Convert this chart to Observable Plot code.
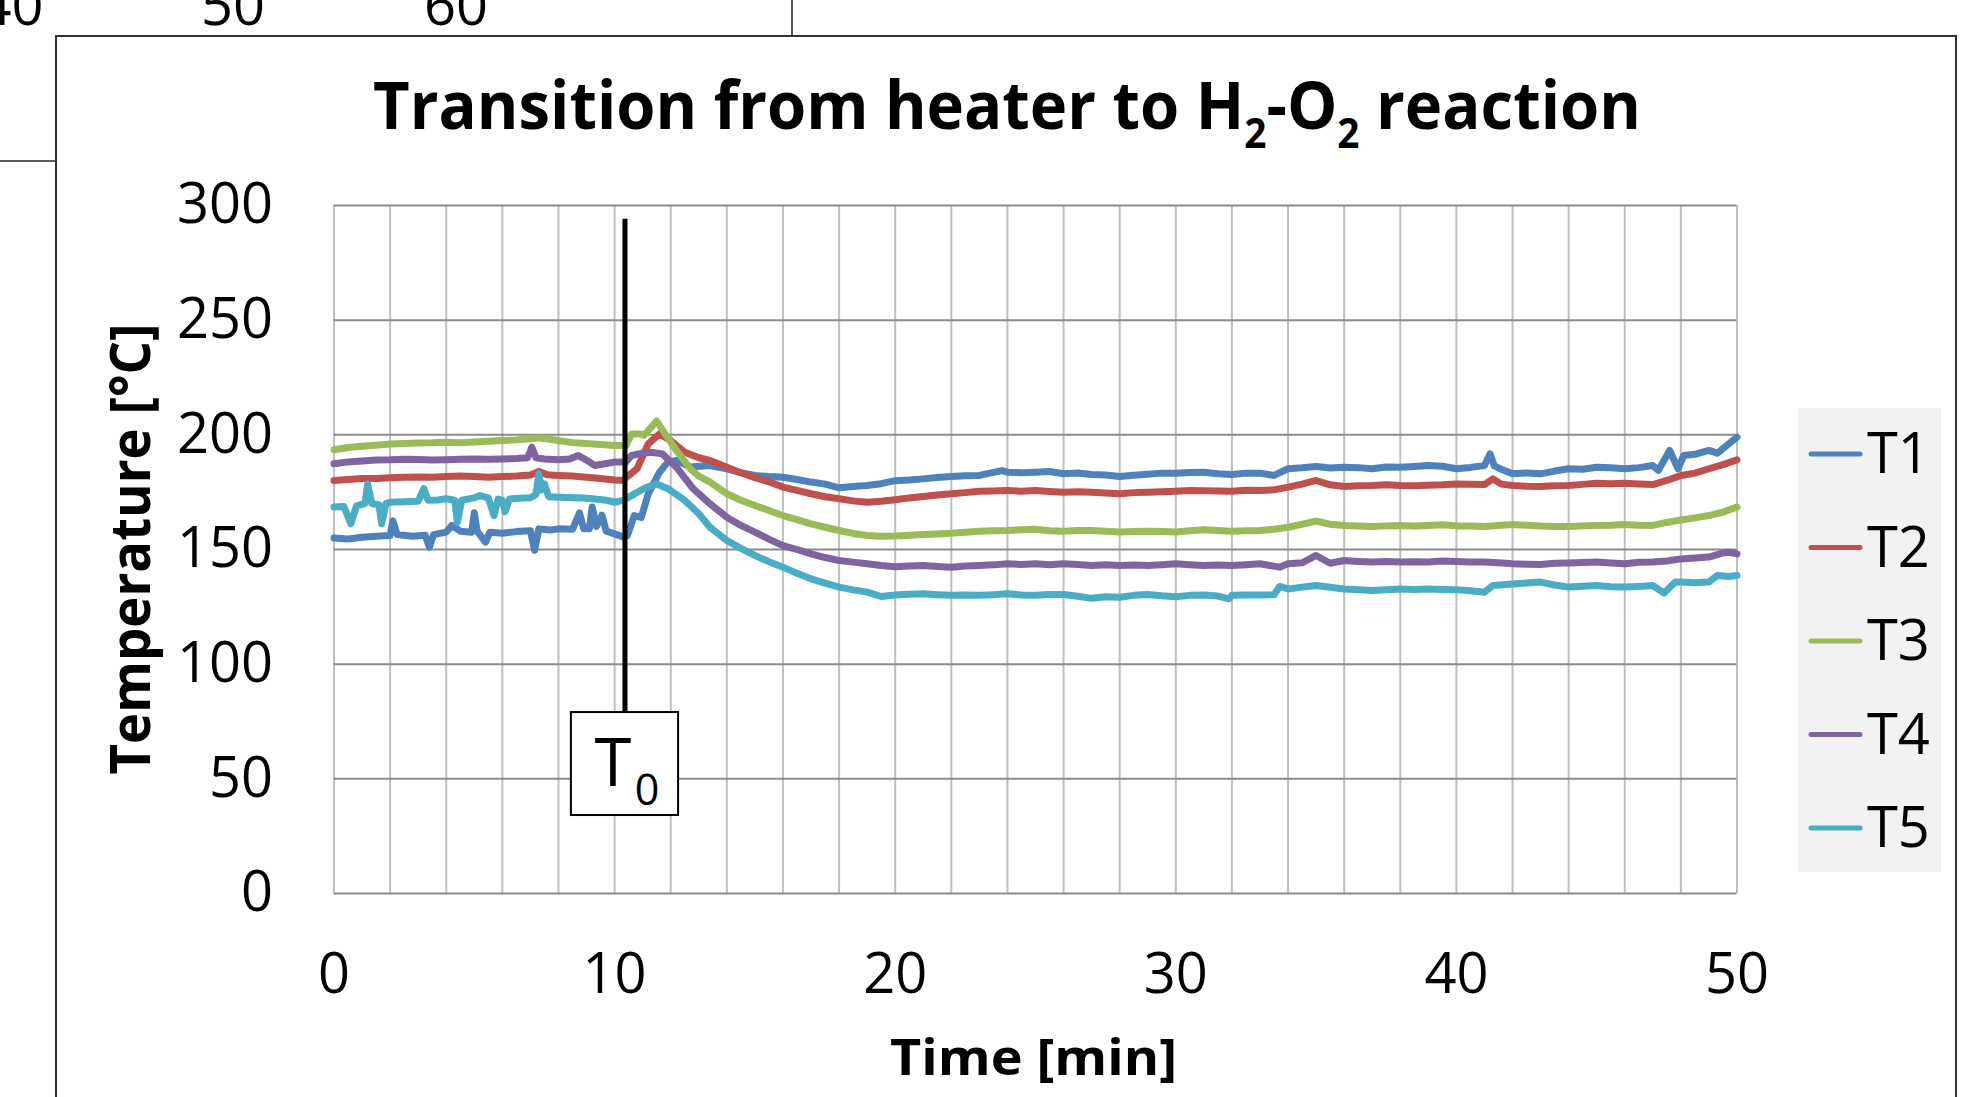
<!DOCTYPE html>
<html>
<head>
<meta charset="utf-8">
<script src="https://cdn.jsdelivr.net/npm/d3@7"></script>
<script src="https://cdn.jsdelivr.net/npm/@observablehq/plot@0.6"></script>
<style>
  html, body { margin: 0; padding: 0; background: #fff; overflow: hidden; }
  #chart { position: absolute; left: 0; top: 0; width: 1969px; height: 1097px; }
</style>
</head>
<body>
<div id="chart"></div>
<script>
// ---------- data ----------
const categories = ["T1", "T2", "T3", "T4", "T5"];
const colors = ["#4F81BD", "#C0504D", "#9BBB59", "#8064A2", "#4BACC6"];
const xTicks = [0, 10, 20, 30, 40, 50];
const yTicks = [0, 50, 100, 150, 200, 250, 300];
const xGridTicks = [0,2,4,6,8,10,12,14,16,18,20,22,24,26,28,30,32,34,36,38,40,42,44,46,48,50];
const titleText = ["Transition from heater to H", "2", "-O", "2", " reaction"];
const xLabel = "Time [min]";
const yLabel = "Temperature [°C]";
const t0Time = [10.37];
const t0Label = ["T", "0"];
const behindLabels = ["40", "50", "60"];

// [time (min), temperature (°C)]
const T1 = [[0,155],[0.5,154.6],[1,155.3],[1.5,155.8],[2,156.1],[2.1,162.5],[2.25,156.5],[2.8,155.8],[3.25,156.2],[3.4,151],[3.55,156.5],[4,157.6],[4.2,160.5],[4.5,158],[4.9,157.5],[5,166],[5.1,158],[5.4,153.2],[5.55,157.5],[6,157.1],[6.5,157.8],[7,158.2],[7.15,149.6],[7.3,159],[7.7,158.5],[8,159],[8.5,158.8],[8.75,166],[8.9,159],[9.1,159],[9.2,168.5],[9.35,160],[9.55,165],[9.7,158],[10,156.8],[10.3,155.5],[10.45,156],[10.7,164.8],[10.95,164],[11.2,174.3],[11.6,183.7],[11.9,188.1],[12.2,188.8],[12.7,186],[13.4,186.6],[14,185.2],[14.5,183.5],[15,182.3],[15.5,181.8],[16,181.5],[16.5,180.5],[17,179.4],[17.5,178.5],[18,176.9],[18.5,177.5],[19,177.9],[19.5,178.7],[20,180],[20.5,180.3],[21,180.8],[21.5,181.4],[22,181.8],[22.5,182.2],[23,182.3],[23.8,184.4],[24,183.7],[24.5,183.5],[25,183.7],[25.5,184],[26,183],[26.5,183.4],[27,182.7],[27.5,182.5],[28,181.8],[28.5,182.4],[29,182.8],[29.5,183.3],[30,183.3],[30.5,183.6],[31,183.7],[31.5,183],[32,182.7],[32.5,183.3],[33,183.3],[33.5,182.3],[34,185.2],[34.5,185.6],[35,186.2],[35.5,185.5],[36,185.9],[36.5,185.7],[37,185.2],[37.5,186],[38,185.9],[38.5,186.2],[39,186.6],[39.5,186.3],[40,185.2],[40.5,185.8],[41,186.6],[41.2,191.7],[41.35,186.5],[41.6,185],[42,183],[42.5,183.4],[43,183],[43.5,184.2],[44,185.2],[44.5,185],[45,185.9],[45.5,185.6],[46,185.2],[46.5,185.7],[47,186.6],[47.2,184.5],[47.6,193.2],[47.9,185.2],[48.1,191],[48.5,191.5],[49,193.2],[49.3,192],[49.6,195],[50,199]];
const T2 = [[0,180.1],[0.5,180.5],[1,181],[1.5,181],[2,181.3],[2.5,181.5],[3,181.6],[3.5,181.5],[4,181.8],[4.5,182],[5,181.8],[5.5,181.5],[6,181.8],[6.5,182],[7,182.5],[7.3,184],[7.6,182.6],[8,182.3],[8.5,182],[9,181.5],[9.5,181],[10,180.3],[10.3,180.1],[10.5,182.3],[10.8,185.2],[11.2,196.1],[11.6,200.4],[12,197.5],[12.5,192.4],[13,190],[13.4,188.8],[14,185.9],[14.5,183.5],[15,181.3],[15.5,179.5],[16,177.2],[16.5,175.8],[17,174.3],[17.5,173],[18,172.1],[18.5,171.2],[19,170.6],[19.5,171],[20,171.7],[20.5,172.5],[21,173.1],[21.5,173.8],[22,174.3],[22.5,174.8],[23,175.4],[23.5,175.5],[24,175.7],[24.5,175.4],[25,175.7],[25.5,175.3],[26,175],[26.5,175.2],[27,175],[27.5,174.6],[28,174.3],[28.5,174.8],[29,175],[29.5,175.2],[30,175.4],[30.5,175.7],[31,175.6],[31.5,175.5],[32,175.4],[32.5,175.8],[33,175.7],[33.5,176],[34,177.2],[34.5,178.5],[35,180.1],[35.5,178.2],[36,177.5],[36.5,177.8],[37,177.9],[37.5,178.2],[38,177.9],[38.5,177.8],[39,178],[39.5,178.2],[40,178.6],[40.5,178.4],[41,178.3],[41.3,180.8],[41.6,178.5],[42,177.9],[42.5,177.6],[43,177.5],[43.5,177.8],[44,177.9],[44.5,178.4],[45,178.9],[45.5,178.7],[46,178.9],[46.5,178.6],[47,178.3],[47.5,180.1],[48,182.3],[48.5,183.3],[49,185.2],[49.5,187],[50,189.1]];
const T3 = [[0,193.5],[0.5,194.5],[1,195],[1.5,195.5],[2,196],[2.5,196.2],[3,196.4],[3.5,196.5],[4,196.8],[4.5,196.6],[5,196.9],[5.5,197.2],[6,197.5],[6.5,197.8],[7,198.3],[7.3,198.7],[7.6,198.2],[8,197.5],[8.5,196.6],[9,196.2],[9.5,195.8],[10,195.4],[10.4,195.3],[10.6,200.4],[10.9,200.4],[11.05,199.8],[11.5,206],[11.8,200.4],[12.2,193.2],[12.7,185.2],[13,182],[13.4,179.4],[14,174.3],[14.5,171.5],[15,169.2],[15.5,167],[16,164.8],[16.5,163],[17,161.2],[17.5,159.7],[18,158.3],[18.5,157],[19,156.1],[19.5,155.8],[20,155.9],[20.5,156.2],[21,156.5],[21.5,156.8],[22,157.1],[22.5,157.5],[23,158],[23.5,158.2],[24,158.3],[24.5,158.6],[25,158.8],[25.5,158.2],[26,158],[26.5,158.3],[27,158.3],[27.5,158],[28,157.6],[28.5,157.8],[29,158],[29.5,157.8],[30,157.6],[30.5,158.2],[31,158.6],[31.5,158.3],[32,158],[32.5,158.2],[33,158.3],[33.5,158.8],[34,159.7],[34.5,161],[35,162.4],[35.5,161],[36,160.5],[36.5,160.2],[37,160],[37.5,160.3],[38,160.5],[38.5,160.3],[39,160.5],[39.5,160.8],[40,160.3],[40.5,160.2],[41,160],[41.5,160.5],[42,160.9],[42.5,160.6],[43,160.2],[43.5,160],[44,160],[44.5,160.3],[45,160.5],[45.5,160.6],[46,160.9],[46.5,160.6],[47,160.5],[47.5,161.8],[48,162.9],[48.5,163.8],[49,164.8],[49.5,166.3],[50,168.5]];
const T4 = [[0,187.4],[0.5,188.2],[1,188.6],[1.5,189],[2,189.1],[2.5,189.4],[3,189.2],[3.5,189],[4,189.1],[4.5,189.3],[5,189.5],[5.5,189.3],[6,189.5],[6.5,189.7],[6.9,190],[7.05,194.6],[7.2,190],[7.5,189.5],[8,189.1],[8.4,189.5],[8.7,191],[9,189],[9.3,186.6],[9.7,187.5],[10,188.1],[10.4,188.1],[10.6,191],[11,192],[11.3,192.4],[11.7,191.7],[12.2,185.9],[12.8,176.5],[13.4,169.9],[14,164.1],[14.5,160.5],[15,157.6],[15.5,154.5],[16,151.7],[16.5,150],[17,148.1],[17.5,146.5],[18,145.2],[18.5,144.5],[19,143.8],[19.5,143],[20,142.5],[20.5,142.8],[21,143],[21.5,142.6],[22,142.3],[22.5,142.8],[23,143],[23.5,143.3],[24,143.8],[24.5,143.5],[25,143.8],[25.5,143.4],[26,143.8],[26.5,143.5],[27,143],[27.5,143.3],[28,143],[28.5,143.2],[29,143],[29.5,143.4],[30,143.8],[30.5,143.4],[31,143],[31.5,143.2],[32,143],[32.5,143.4],[33,143.8],[33.7,142.3],[34,143.8],[34.5,144.2],[35,147.4],[35.5,144],[36,145.2],[36.5,144.8],[37,144.5],[37.5,144.8],[38,144.5],[38.5,144.7],[39,144.5],[39.5,145],[40,144.8],[40.5,144.5],[41,144.5],[41.5,144.2],[42,143.8],[42.5,143.6],[43,143.5],[43.5,144],[44,144.1],[44.5,144.3],[45,144.5],[45.5,144.1],[46,143.8],[46.5,144.4],[47,144.5],[47.5,145],[48,145.9],[48.5,146.3],[49,146.7],[49.5,148.5],[49.7,148.8],[50,148.1]];
const T5 = [[0,168.5],[0.35,168.8],[0.6,161.2],[0.8,169],[1.1,170],[1.2,178.6],[1.35,170],[1.6,169.5],[1.7,161.2],[1.85,170],[2,170.6],[2.5,170.8],[3,171],[3.2,176.5],[3.35,171.5],[3.7,171.6],[4,172.1],[4.3,171.5],[4.4,161.9],[4.55,171.5],[5,172.5],[5.2,173.5],[5.5,172.5],[5.7,164.8],[5.85,172],[6,171.4],[6.1,166.5],[6.25,172],[6.6,172.3],[7,172.6],[7.2,174],[7.3,183],[7.4,176],[7.5,178.6],[7.65,173],[8,172.8],[8.5,172.6],[8.9,172.5],[9.3,172],[9.7,171.5],[10,170.6],[10.3,171.4],[10.6,173.5],[11.1,176.9],[11.5,178.6],[11.9,176.5],[12.5,171.4],[13,165.6],[13.4,159.7],[14,153.9],[14.5,150.5],[15,147.4],[15.5,144.7],[16,142.3],[16.5,139.6],[17,137.2],[17.5,135.3],[18,133.6],[18.5,132.4],[19,131.4],[19.5,129.5],[20,130.2],[20.5,130.5],[21,130.7],[21.5,130.3],[22,130],[22.5,130.2],[23,130],[23.5,130.3],[24,130.7],[24.5,130.2],[25,130],[25.5,130.4],[26,130.4],[26.5,129.6],[27,128.7],[27.5,129.4],[28,129.2],[28.5,130],[29,130.4],[29.5,129.8],[30,129.4],[30.5,130],[31,130.2],[31.5,129.7],[31.9,128.5],[32,130],[32.5,130.2],[33,130.2],[33.5,130.3],[33.7,133.9],[34,132.8],[34.5,133.6],[35,134.3],[35.5,133.5],[36,132.8],[36.5,132.5],[37,132.1],[37.5,132.5],[38,132.8],[38.5,132.6],[39,132.8],[39.5,132.6],[40,132.5],[40.5,132],[41,131.4],[41.3,134.3],[42,135],[42.5,135.4],[43,135.8],[43.5,134.5],[44,133.6],[44.5,134],[45,134.3],[45.5,133.8],[46,133.6],[46.5,133.9],[47,134.3],[47.4,131],[47.8,135.8],[48,135.8],[48.5,135.5],[49,135.8],[49.3,138.7],[49.7,138.2],[50,138.7]];

const seriesValues = [T1, T2, T3, T4, T5];
const rows = categories.flatMap((c, i) => seriesValues[i].map(([t, v]) => ({series: c, t, v})));

// ---------- layout ----------
const W = 1969, H = 1097;
const FONT = "'Open Sans', 'Noto Sans', sans-serif";

const svg = Plot.plot({
  width: W,
  height: H,
  marginLeft: 333.5,
  marginRight: 232.5,
  marginTop: 205,
  marginBottom: 204,
  style: {fontFamily: FONT, background: "transparent", overflow: "visible"},
  x: {domain: [0, 50]},
  y: {domain: [0, 300]},
  color: {domain: categories, range: colors},
  marks: [
    Plot.gridX(xGridTicks, {stroke: "#bfbfbf", strokeOpacity: 1, strokeWidth: 2}),
    Plot.gridY(yTicks, {stroke: "#8c8c8c", strokeOpacity: 1, strokeWidth: 2}),
    Plot.axisX(xTicks, {tickSize: 0, tickPadding: 60, fontSize: 56, label: null, fill: "#000"}),
    Plot.axisY(yTicks, {tickSize: 0, tickPadding: 61, fontSize: 56, label: null, fill: "#000"}),
    Plot.line(rows, {x: "t", y: "v", z: "series", stroke: "series", strokeWidth: 7,
      strokeLinejoin: "round", strokeLinecap: "round"}),
    Plot.ruleX(t0Time, {y1: 78.9, y2: 294, stroke: "#000", strokeWidth: 5}),
    Plot.rect(t0Time, {x1: d => d - 1.91, x2: d => d + 1.91, y1: 34, y2: 78.9,
      fill: "#fff", stroke: "#000", strokeWidth: 2}),
    Plot.text(t0Time, {x: d => d, y: 56.3, text: () => t0Label[0], dx: -12, fontSize: 67, fill: "#000"}),
    Plot.text(t0Time, {x: d => d, y: 44.7, text: () => t0Label[1], dx: 22, fontSize: 43, fill: "#000"})
  ]
});

document.getElementById("chart").appendChild(svg);
const s = d3.select(svg);

// background chart fragments (behind this chart)
const back = s.insert("g", ":first-child");
back.append("line").attr("x1", 792).attr("x2", 792).attr("y1", 0).attr("y2", 36)
  .attr("stroke", "#222").attr("stroke-width", 1.5);
back.append("line").attr("x1", 0).attr("x2", 56).attr("y1", 161).attr("y2", 161)
  .attr("stroke", "#222").attr("stroke-width", 1.5);
const behindX = [11.5, 233, 456];
behindLabels.forEach((t, i) => {
  back.append("text").attr("x", behindX[i]).attr("y", 25).attr("text-anchor", "middle")
    .attr("font-family", FONT).attr("font-size", 56).attr("fill", "#000").text(t);
});
back.append("rect").attr("x", 56).attr("y", 36).attr("width", 1900).attr("height", 1200)
  .attr("fill", "#fff").attr("stroke", "#333").attr("stroke-width", 2);

// helper: scale text horizontally to a target width around anchor
function fitWidth(sel, target, cx, cy, rotate) {
  const bb = sel.node().getBBox();
  const k = target / bb.width;
  const rot = rotate ? ` rotate(${rotate})` : "";
  sel.attr("transform", `translate(${cx},${cy})${rot} scale(${k},1)`);
}

// title
const title = s.append("text").attr("x", 0).attr("y", 0).attr("text-anchor", "middle")
  .attr("font-family", FONT).attr("font-weight", 700).attr("font-size", 67).attr("fill", "#000");
title.append("tspan").text(titleText[0]);
title.append("tspan").attr("font-size", 41).attr("dy", 19).text(titleText[1]);
title.append("tspan").attr("dy", -19).text(titleText[2]);
title.append("tspan").attr("font-size", 41).attr("dy", 19).text(titleText[3]);
title.append("tspan").attr("dy", -19).text(titleText[4]);
fitWidth(title, 1268, 1007, 129);

// x label
const xl = s.append("text").attr("x", 0).attr("y", 0).attr("text-anchor", "middle")
  .attr("font-family", FONT).attr("font-weight", 700).attr("font-size", 50).attr("fill", "#000")
  .text(xLabel);
fitWidth(xl, 287, 1033.5, 1075);

// y label
const yl = s.append("text").attr("x", 0).attr("y", 0).attr("text-anchor", "middle")
  .attr("font-family", FONT).attr("font-weight", 700).attr("font-size", 55).attr("fill", "#000")
  .text(yLabel);
fitWidth(yl, 451, 150, 549, -90);

// legend
const lg = s.append("g");
lg.append("rect").attr("x", 1798).attr("y", 408).attr("width", 143).attr("height", 464).attr("fill", "#f2f2f2");
categories.forEach((c, i) => {
  const yy = 454 + 93.5 * i;
  lg.append("line").attr("x1", 1811).attr("x2", 1860).attr("y1", yy).attr("y2", yy)
    .attr("stroke", colors[i]).attr("stroke-width", 5).attr("stroke-linecap", "round");
  lg.append("text").attr("x", 1867).attr("y", yy + 19).attr("text-anchor", "start")
    .attr("font-family", FONT).attr("font-size", 56).attr("fill", "#000").text(c);
});
</script>
</body>
</html>
